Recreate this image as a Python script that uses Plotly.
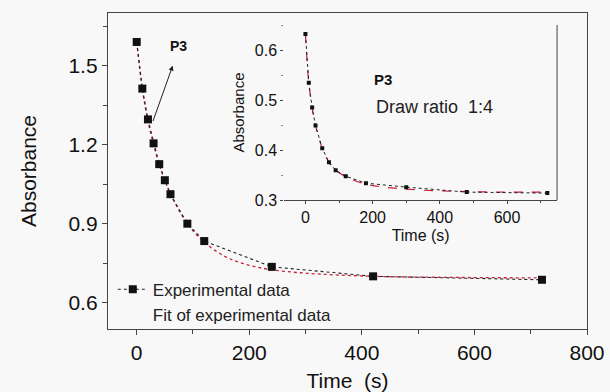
import plotly.graph_objects as go

# Main panel data
time_main = [0, 10, 20, 30, 40, 50, 60, 90, 120, 240, 420, 720]
abs_main = [1.59, 1.413, 1.296, 1.205, 1.126, 1.065, 1.012, 0.90, 0.834, 0.736, 0.70, 0.687]

fit_time_main = [0, 10, 20, 30, 40, 50, 60, 90, 120, 160, 200, 240, 300, 420, 560, 720]
fit_abs_main = [1.59, 1.41, 1.29, 1.20, 1.125, 1.065, 1.012, 0.90, 0.83, 0.772, 0.742, 0.725, 0.712, 0.70, 0.696, 0.694]

# Inset data
time_inset = [0, 10, 20, 30, 50, 70, 90, 120, 180, 300, 480, 720]
abs_inset = [0.634, 0.536, 0.486, 0.45, 0.404, 0.376, 0.36, 0.348, 0.334, 0.326, 0.316, 0.314]

fit_time_inset = [0, 10, 20, 30, 50, 70, 90, 120, 180, 300, 480, 720]
fit_abs_inset = [0.634, 0.536, 0.486, 0.45, 0.404, 0.376, 0.36, 0.347, 0.332, 0.322, 0.317, 0.316]

main_xticks = [0, 200, 400, 600, 800]
main_yticks = [0.6, 0.9, 1.2, 1.5]
inset_xticks = [0, 200, 400, 600]
inset_yticks = [0.3, 0.4, 0.5, 0.6]

FONT = "Liberation Sans, Arial, sans-serif"
RED = "#c8203c"
AX = "#444444"
BG = "#f8f8f8"

fig = go.Figure()

fig.add_trace(go.Scatter(
    x=fit_time_main, y=fit_abs_main, mode="lines", line_shape="spline",
    line=dict(color=RED, width=1.3, dash="dot"), showlegend=False, xaxis="x", yaxis="y"))
fig.add_trace(go.Scatter(
    x=time_main, y=abs_main, mode="lines+markers", name="Experimental data",
    line=dict(color="#222222", width=1.1, dash="dot"),
    marker=dict(symbol="square", size=8, color="#111111"), xaxis="x", yaxis="y"))
fig.add_trace(go.Scatter(
    x=[None], y=[None], mode="lines", name="Fit of experimental data",
    line=dict(color="rgba(0,0,0,0)", width=1), xaxis="x", yaxis="y"))

fig.add_trace(go.Scatter(
    x=fit_time_inset, y=fit_abs_inset, mode="lines", line_shape="spline",
    line=dict(color=RED, width=1.2, dash="dash"), showlegend=False, xaxis="x2", yaxis="y2"))
fig.add_trace(go.Scatter(
    x=time_inset, y=abs_inset, mode="lines+markers",
    line=dict(color="#222222", width=1, dash="dot"),
    marker=dict(symbol="square", size=4, color="#111111"), showlegend=False,
    xaxis="x2", yaxis="y2"))

fig.update_layout(
    width=610, height=392,
    margin=dict(l=108, r=23, t=13, b=63, autoexpand=False),
    paper_bgcolor=BG, plot_bgcolor=BG,
    font=dict(family=FONT, color="#111111"),
    showlegend=True,
    legend=dict(x=0.01, y=0.085, xanchor="left", yanchor="middle",
                bgcolor="rgba(0,0,0,0)", font=dict(size=17, family=FONT, color="#222222"),
                itemwidth=30, tracegroupgap=0),
    xaxis=dict(domain=[0, 1], range=[-51, 800], tickvals=main_xticks, automargin=False,
               ticks="outside", ticklen=5, tickwidth=1, tickcolor=AX,
               minor=dict(dtick=100, tick0=0, ticks="outside", ticklen=4, tickcolor=AX),
               showline=True, linecolor=AX, linewidth=1.3, mirror=True,
               showgrid=False, zeroline=False,
               tickfont=dict(size=21),
               title=dict(text="Time  (s)", font=dict(size=21), standoff=16)),
    yaxis=dict(domain=[0, 1], range=[0.5, 1.70], tickvals=main_yticks, automargin=False,
               tickformat=".1f",
               ticks="outside", ticklen=5, tickwidth=1, tickcolor=AX,
               minor=dict(dtick=0.15, tick0=0.6, ticks="outside", ticklen=4, tickcolor=AX),
               showline=True, linecolor=AX, linewidth=1.3, mirror=True,
               showgrid=False, zeroline=False,
               tickfont=dict(size=21),
               title=dict(text="Absorbance", font=dict(size=21), standoff=26)),
    xaxis2=dict(domain=[0.368, 0.9375], anchor="y2", range=[-63, 749], automargin=False,
                tickvals=inset_xticks,
                ticks="outside", ticklen=3, tickcolor=AX,
                minor=dict(dtick=100, tick0=0, ticks="outside", ticklen=2, tickcolor=AX),
                showline=True, linecolor=AX, linewidth=1,
                showgrid=False, zeroline=False,
                tickfont=dict(size=16),
                title=dict(text="Time (s)", font=dict(size=16), standoff=4)),
    yaxis2=dict(domain=[0.408, 0.962], anchor="x2", range=[0.3, 0.652], automargin=False,
                tickvals=inset_yticks, tickformat=".1f",
                ticks="outside", ticklen=3, tickcolor=AX,
                minor=dict(dtick=0.05, tick0=0.3, ticks="outside", ticklen=2, tickcolor="#888888"),
                showline=False, showgrid=False, zeroline=False,
                tickfont=dict(size=16),
                title=dict(text="Absorbance", font=dict(size=15), standoff=6)),
)

# inset right border
fig.add_shape(type="line", xref="x2 domain", yref="y2 domain", x0=1, x1=1, y0=0, y1=1,
              line=dict(color=AX, width=1))

fig.add_annotation(x=74, y=1.576, xref="x", yref="y", text="<b>P3</b>", showarrow=False,
                   font=dict(size=14, family=FONT, color="#111111"))
fig.add_annotation(x=64, y=1.50, xref="x", yref="y", ax=28, ay=1.284, axref="x", ayref="y",
                   text="", showarrow=True, arrowhead=2, arrowsize=1, arrowwidth=1,
                   arrowcolor="#222222")
fig.add_annotation(x=0.575, y=0.791, xref="paper", yref="paper", xanchor="center",
                   yanchor="middle", text="<b>P3</b>",
                   showarrow=False, font=dict(size=15, family=FONT, color="#111111"))
fig.add_annotation(x=0.682, y=0.703, xref="paper", yref="paper", xanchor="center",
                   yanchor="middle", text="Draw ratio  1:4",
                   showarrow=False, font=dict(size=18, family=FONT, color="#222222"))

fig.write_html("out.html")
